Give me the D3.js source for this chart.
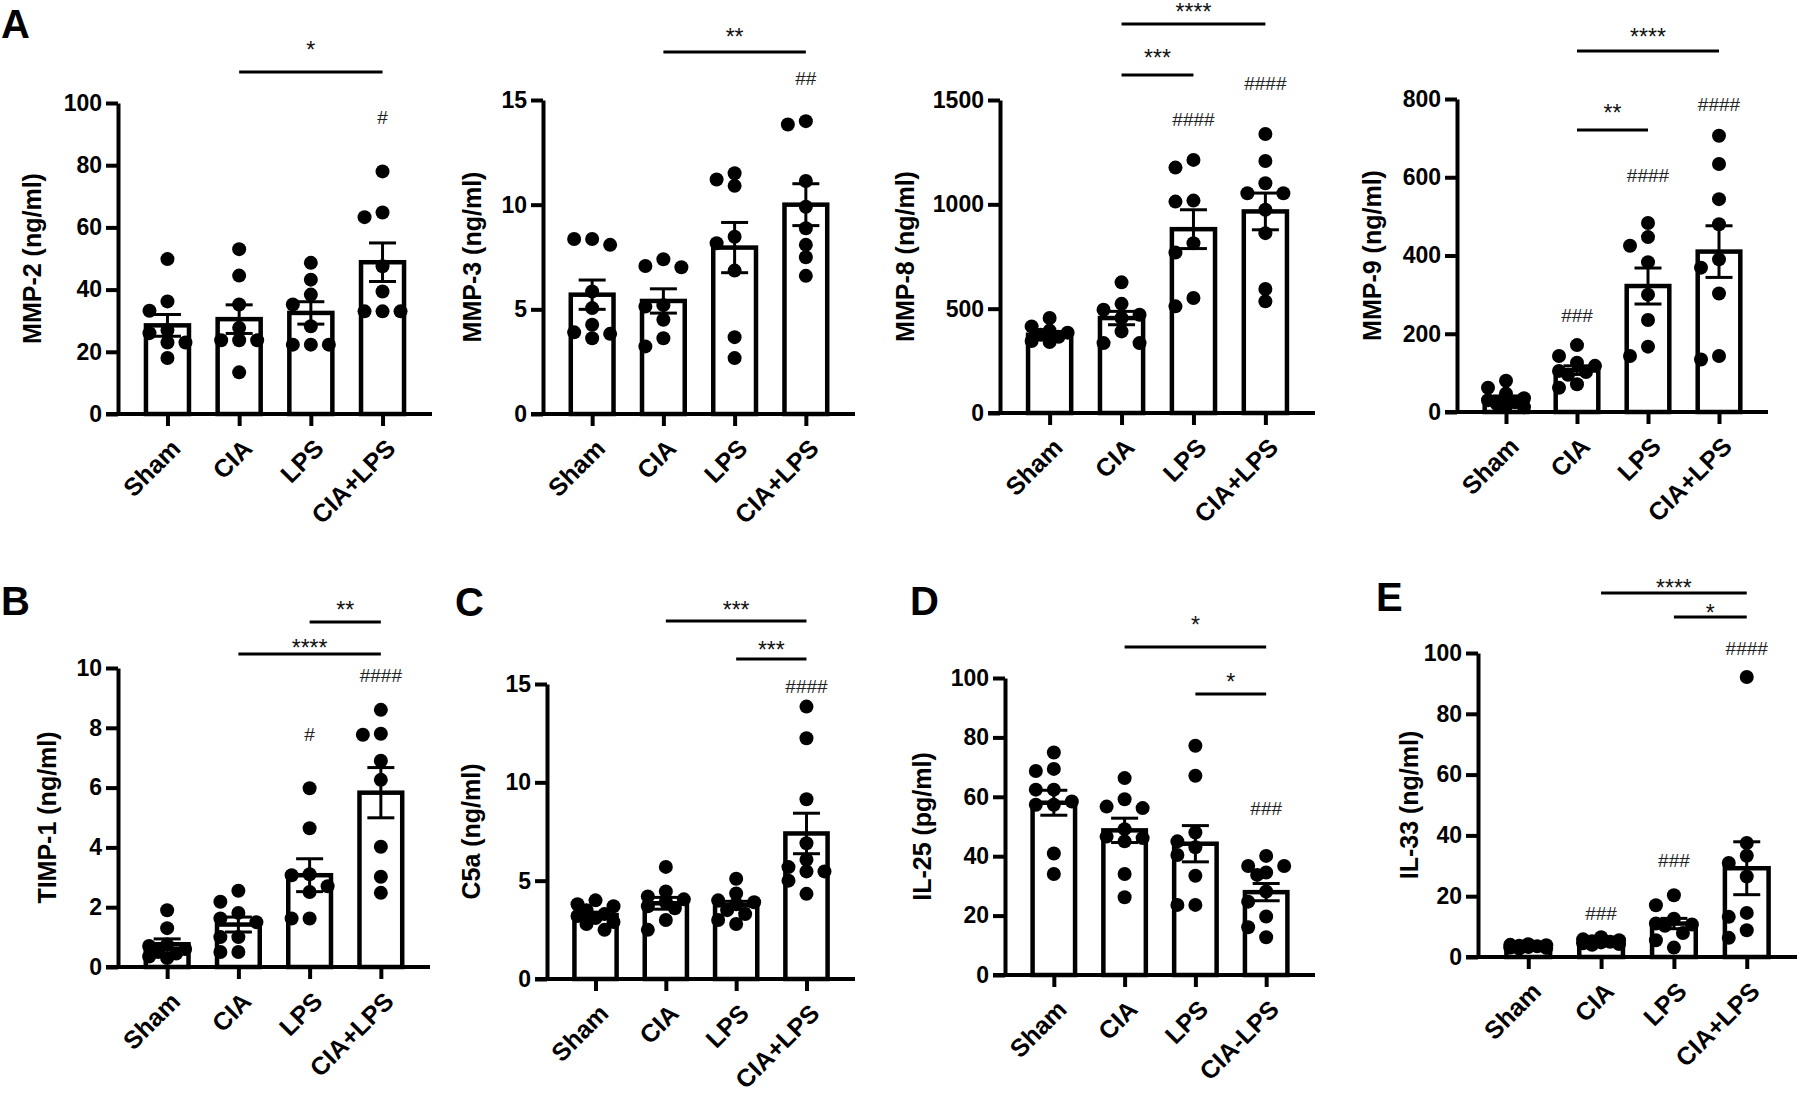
<!DOCTYPE html>
<html><head><meta charset="utf-8">
<script src="https://cdn.jsdelivr.net/npm/d3@7"></script>
<style>
body{margin:0;background:#fff}
svg{display:block}
text{font-family:"Liberation Sans",Arial,sans-serif}
</style>
</head><body>
<svg id="c" width="1800" height="1107"></svg>
<script>
// ---------- categories ----------
const groups = ["Sham", "CIA", "LPS", "CIA+LPS"];
const groupsIL25 = ["Sham", "CIA", "LPS", "CIA-LPS"];

// ---------- MMP-2 ----------
const mmp2Ticks = [0, 20, 40, 60, 80, 100];
const mmp2Mean = [28.5, 30.5, 32.5, 48.8];
const mmp2Sem = [3.5, 4.6, 3.6, 6.2];
const mmp2Points = [
  [49.8, 36.2, 33.2, 27, 26, 23, 23, 18],
  [53, 44.5, 35.2, 27.7, 23.7, 23.7, 23.7, 13.4],
  [48.6, 43.2, 38.4, 35.2, 28.2, 22.3, 22.3, 22.3],
  [78, 64.8, 63.3, 47.5, 39.4, 33, 33, 33]
];

// ---------- MMP-3 ----------
const mmp3Ticks = [0, 5, 10, 15];
const mmp3Mean = [5.7, 5.4, 7.95, 10.0];
const mmp3Sem = [0.7, 0.58, 1.2, 1.0];
const mmp3Points = [
  [8.36, 8.36, 8.08, 5.85, 5.06, 4.26, 3.9, 3.83, 3.62],
  [7.39, 7.07, 7.01, 5.2, 5.13, 4.5, 3.62, 3.23],
  [11.5, 11.2, 10.9, 8.47, 8.16, 6.85, 3.67, 2.67],
  [13.99, 13.83, 11.13, 9.9, 8.87, 8.08, 7.49, 6.6]
];

// ---------- MMP-8 ----------
const mmp8Ticks = [0, 500, 1000, 1500];
const mmp8Mean = [375, 455, 881, 966];
const mmp8Sem = [14, 32, 93, 88];
const mmp8Points = [
  [455, 415, 395, 385, 375, 365, 345, 340],
  [626, 523, 495, 471, 455, 391, 335, 335],
  [1213, 1176, 1018, 1013, 814, 769, 551, 511],
  [1337, 1208, 1101, 1053, 1053, 974, 862, 594, 535]
];

// ---------- MMP-9 ----------
const mmp9Ticks = [0, 200, 400, 600, 800];
const mmp9Mean = [34, 107, 322, 410];
const mmp9Sem = [7, 11, 46, 66];
const mmp9Points = [
  [80, 62, 47, 35, 30, 25, 20, 15, 12],
  [171, 143, 126, 118, 105, 102, 95, 71, 62],
  [483, 447, 425, 383, 300, 235, 167, 143],
  [706, 634, 544, 480, 390, 369, 303, 143, 134]
];

// ---------- TIMP-1 ----------
const timp1Ticks = [0, 2, 4, 6, 8, 10];
const timp1Mean = [0.76, 1.42, 3.07, 5.83];
const timp1Sem = [0.18, 0.25, 0.55, 0.84];
const timp1Points = [
  [1.9, 1.3, 0.75, 0.7, 0.6, 0.5, 0.45, 0.35, 0.3],
  [2.55, 2.18, 1.81, 1.62, 1.5, 1.0, 1.0, 0.5, 0.5],
  [5.98, 4.64, 3.1, 3.07, 2.7, 2.51, 1.62, 1.62],
  [8.6, 7.8, 7.77, 6.9, 6.26, 4.02, 3.02, 2.48]
];

// ---------- C5a ----------
const c5aTicks = [0, 5, 10, 15];
const c5aMean = [3.25, 3.85, 3.75, 7.4];
const c5aSem = [0.15, 0.3, 0.2, 1.03];
const c5aPoints = [
  [4.0, 3.8, 3.7, 3.5, 3.3, 3.2, 3.1, 2.9, 2.8, 2.5],
  [5.7, 4.45, 4.2, 4.05, 3.9, 3.7, 3.6, 3.0, 2.5],
  [5.1, 4.35, 4.0, 3.9, 3.8, 3.5, 3.3, 3.0, 2.8],
  [13.85, 12.24, 9.14, 6.9, 6.06, 5.69, 5.47, 5.47, 5.0, 4.33]
];

// ---------- IL-25 ----------
const il25Ticks = [0, 20, 40, 60, 80, 100];
const il25Mean = [58, 48.7, 44.2, 27.9];
const il25Sem = [4.2, 4.1, 6.1, 2.9];
const il25Points = [
  [74.9, 69.4, 68.7, 62.4, 62.4, 58.4, 57.3, 57.3, 40.9, 34],
  [66.3, 59.2, 56.7, 56.2, 49.1, 46.6, 46.1, 45, 34, 26.2],
  [77.2, 67.1, 48, 45, 43, 40.4, 33.4, 23.6, 23.6],
  [40.1, 36.7, 36.7, 34.5, 33.7, 28.1, 24.7, 19.7, 16.1, 12.7]
];

// ---------- IL-33 ----------
const il33Ticks = [0, 20, 40, 60, 80, 100];
const il33Mean = [3.5, 5.1, 11, 29.2];
const il33Sem = [0.2, 0.3, 1.7, 8.7];
const il33Points = [
  [4.2, 4.0, 3.9, 3.7, 3.5, 3.3, 3.1, 3.0, 2.8],
  [6.5, 5.8, 5.5, 5.2, 5.0, 4.8, 4.5, 4.3, 4.0],
  [20.3, 17, 12.6, 11, 10.7, 10.3, 7.9, 5.5, 3.1],
  [92.1, 37.5, 33.3, 30.9, 26.5, 14.5, 13.2, 8.8, 6.3]
];

// ---------- panel letters ----------
const panelLetters = ["A", "B", "C", "D", "E"];

// ---------- panel definitions (layout kept separate from values) ----------
const panels = [
  {title: "MMP-2 (ng/ml)", cats: groups, pts: mmp2Points, mean: mmp2Mean, sem: mmp2Sem, ticks: mmp2Ticks,
   L: {ax: 118, top: 103, bottom: 414, right: 432, labelX: 41},
   sig: [{a: 1, b: 3, t: "*", ly: 72, ty: 45}],
   hash: [{g: 3, t: "#", cy: 117}]},
  {title: "MMP-3 (ng/ml)", cats: groups, pts: mmp3Points, mean: mmp3Mean, sem: mmp3Sem, ticks: mmp3Ticks,
   L: {ax: 543, top: 100, bottom: 414, right: 855, labelX: 481},
   sig: [{a: 1, b: 3, t: "**", ly: 52, ty: 32}],
   hash: [{g: 3, t: "##", cy: 78}]},
  {title: "MMP-8 (ng/ml)", cats: groups, pts: mmp8Points, mean: mmp8Mean, sem: mmp8Sem, ticks: mmp8Ticks,
   L: {ax: 1000, top: 100, bottom: 413, right: 1315, labelX: 914},
   sig: [{a: 1, b: 3, t: "****", ly: 24, ty: 7}, {a: 1, b: 2, t: "***", ly: 75, ty: 53}],
   hash: [{g: 2, t: "####", cy: 119}, {g: 3, t: "####", cy: 83}]},
  {title: "MMP-9 (ng/ml)", cats: groups, pts: mmp9Points, mean: mmp9Mean, sem: mmp9Sem, ticks: mmp9Ticks,
   L: {ax: 1457, top: 99, bottom: 412, right: 1768, labelX: 1381},
   sig: [{a: 1, b: 3, t: "****", ly: 51, ty: 32}, {a: 1, b: 2, t: "**", ly: 130, ty: 108}],
   hash: [{g: 1, t: "###", cy: 315}, {g: 2, t: "####", cy: 175}, {g: 3, t: "####", cy: 104}]},
  {title: "TIMP-1 (ng/ml)", cats: groups, pts: timp1Points, mean: timp1Mean, sem: timp1Sem, ticks: timp1Ticks,
   L: {ax: 118, top: 668, bottom: 967, right: 430, labelX: 56},
   sig: [{a: 2, b: 3, t: "**", ly: 622, ty: 605}, {a: 1, b: 3, t: "****", ly: 654, ty: 643}],
   hash: [{g: 2, t: "#", cy: 734}, {g: 3, t: "####", cy: 675}]},
  {title: "C5a (ng/ml)", cats: groups, pts: c5aPoints, mean: c5aMean, sem: c5aSem, ticks: c5aTicks,
   L: {ax: 547, top: 684, bottom: 979, right: 855, labelX: 480},
   sig: [{a: 1, b: 3, t: "***", ly: 621, ty: 605}, {a: 2, b: 3, t: "***", ly: 659, ty: 645}],
   hash: [{g: 3, t: "####", cy: 686}]},
  {title: "IL-25 (pg/ml)", cats: groupsIL25, pts: il25Points, mean: il25Mean, sem: il25Sem, ticks: il25Ticks,
   L: {ax: 1005, top: 678, bottom: 975, right: 1315, labelX: 931},
   sig: [{a: 1, b: 3, t: "*", ly: 647, ty: 620}, {a: 2, b: 3, t: "*", ly: 694, ty: 677}],
   hash: [{g: 3, t: "###", cy: 808}]},
  {title: "IL-33 (ng/ml)", cats: groups, pts: il33Points, mean: il33Mean, sem: il33Sem, ticks: il33Ticks,
   L: {ax: 1478, top: 653, bottom: 957, right: 1797, labelX: 1418},
   sig: [{a: 1, b: 3, t: "****", ly: 593, ty: 583}, {a: 2, b: 3, t: "*", ly: 617, ty: 608}],
   hash: [{g: 1, t: "###", cy: 913}, {g: 2, t: "###", cy: 860}, {g: 3, t: "####", cy: 648}]}
];
const letterPos = [{x: 1, y: 38}, {x: 1, y: 615}, {x: 455, y: 616}, {x: 910, y: 615}, {x: 1376, y: 611}];

const svg = d3.select("#c");
const R = 7;

// simple deterministic beeswarm, kept within the bar width
function swarm(vals, y, cx, d) {
  const order = vals.map((v, i) => i).sort((a, b) => vals[b] - vals[a]);
  const placed = [];
  const cands = [0, -d, d, -d / 2, d / 2];
  order.forEach(i => {
    const py = y(vals[i]);
    let best = 0, bestMin = -1;
    for (const c of cands) {
      let minD = Infinity;
      placed.forEach(p => { minD = Math.min(minD, Math.hypot(p.x - (cx + c), p.y - py)); });
      if (minD >= 12) { best = c; bestMin = Infinity; break; }
      if (minD > bestMin) { bestMin = minD; best = c; }
    }
    placed.push({x: cx + best, y: py, v: vals[i]});
  });
  return placed;
}

panels.forEach(p => {
  const L = p.L;
  const x = d3.scalePoint().domain(p.cats).range([L.ax, L.right]).padding(0.69);
  const y = d3.scaleLinear().domain([0, p.ticks[p.ticks.length - 1]]).range([L.bottom, L.top]);
  const g = svg.append("g");
  const bw = x.step() * 0.6;

  // bars
  g.selectAll("rect.bar").data(p.mean).join("rect")
    .attr("x", (d, i) => x(p.cats[i]) - bw / 2)
    .attr("y", d => y(d))
    .attr("width", bw)
    .attr("height", d => y(0) - y(d))
    .attr("fill", "#fff").attr("stroke", "#000").attr("stroke-width", 4.5);

  // points
  p.pts.forEach((vals, i) => {
    const pl = swarm(vals, y, x(p.cats[i]), 18);
    g.selectAll(null).data(pl).join("circle")
      .attr("cx", d => d.x).attr("cy", d => d.y).attr("r", R).attr("fill", "#000");
  });

  // error bars
  p.mean.forEach((m, i) => {
    const cx = x(p.cats[i]), s = p.sem[i];
    const hi = y(m + s), lo = y(m - s);
    g.append("line").attr("x1", cx).attr("x2", cx).attr("y1", hi).attr("y2", lo)
      .attr("stroke", "#000").attr("stroke-width", 3);
    [hi, lo].forEach(yy => g.append("line").attr("x1", cx - 13.5).attr("x2", cx + 13.5)
      .attr("y1", yy).attr("y2", yy).attr("stroke", "#000").attr("stroke-width", 3));
  });

  // y axis
  const ya = g.append("g").attr("transform", `translate(${L.ax},0)`)
    .call(d3.axisLeft(y).tickValues(p.ticks).tickSize(12).tickSizeOuter(0).tickPadding(4).tickFormat(d3.format("d")));
  ya.select(".domain").attr("stroke-width", 4).attr("stroke", "#000");
  ya.selectAll(".tick line").attr("stroke-width", 4).attr("stroke", "#000");
  ya.selectAll(".tick text").attr("font-size", 23).attr("font-weight", "bold").attr("fill", "#000")
    .attr("font-family", "'Liberation Sans', Arial, sans-serif");

  // x axis
  const xa = g.append("g").attr("transform", `translate(0,${L.bottom})`)
    .call(d3.axisBottom(x).tickSize(12).tickSizeOuter(0));
  xa.select(".domain").attr("d", `M${L.ax - 12},0H${L.right}`).attr("stroke-width", 4).attr("stroke", "#000");
  xa.selectAll(".tick line").attr("stroke-width", 4).attr("stroke", "#000");
  xa.selectAll(".tick text")
    .attr("x", 0).attr("y", 0).attr("dy", 0)
    .attr("text-anchor", "end")
    .attr("transform", "translate(14,36) rotate(-45)")
    .attr("font-size", 25).attr("font-weight", "bold").attr("fill", "#000")
    .attr("font-family", "'Liberation Sans', Arial, sans-serif");

  // y title
  g.append("text")
    .attr("transform", `translate(${L.labelX},${(L.top + L.bottom) / 2}) rotate(-90)`)
    .attr("text-anchor", "middle").attr("font-size", 25).attr("font-weight", "bold")
    .text(p.title);

  // significance brackets
  p.sig.forEach(s => {
    const x1 = x(p.cats[s.a]), x2 = x(p.cats[s.b]);
    g.append("line").attr("x1", x1).attr("x2", x2).attr("y1", s.ly).attr("y2", s.ly)
      .attr("stroke", "#000").attr("stroke-width", 3);
    g.append("text").attr("x", (x1 + x2) / 2).attr("y", s.ty + 12.5)
      .attr("text-anchor", "middle").attr("font-size", 23).attr("fill", "#111").text(s.t);
  });

  // hash marks
  p.hash.forEach(h => {
    g.append("text").attr("x", x(p.cats[h.g])).attr("y", h.cy + 7)
      .attr("text-anchor", "middle").attr("font-size", 19).attr("fill", "#222").text(h.t);
  });
});

// panel letters
svg.selectAll("text.letter").data(panelLetters).join("text")
  .attr("class", "letter")
  .attr("x", (d, i) => letterPos[i].x).attr("y", (d, i) => letterPos[i].y)
  .attr("font-size", 40).attr("font-weight", "bold").text(d => d);
</script>
</body></html>
